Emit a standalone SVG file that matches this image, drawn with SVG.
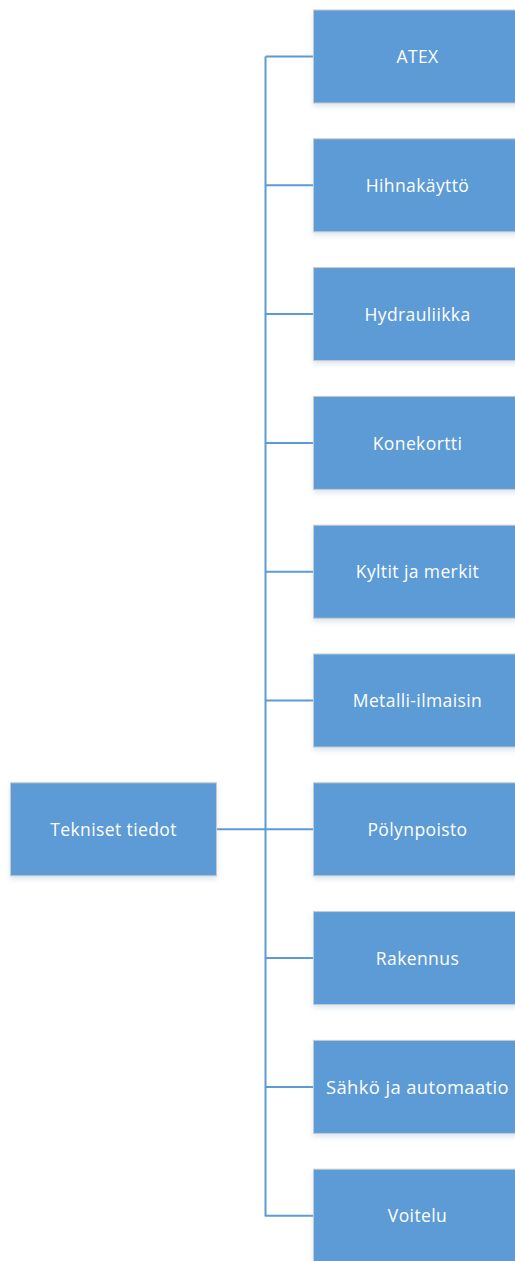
<svg xmlns="http://www.w3.org/2000/svg" width="515" height="1261" viewBox="0 0 515 1261">
  <style>
    .box { fill: #5B9BD5; stroke: #C9C9C9; stroke-width: 1; filter: url(#shadow); }
    .label { fill: #FFFFFF; font-family: "Open Sans", "Noto Sans", sans-serif; font-size: 17.5px; text-anchor: middle; letter-spacing: 0.4px; }
    .wire { fill: none; stroke: #5B9BD5; stroke-width: 2; }
  </style>
  <defs>
    <filter id="shadow" x="-10%" y="-10%" width="120%" height="130%">
      <feDropShadow dx="0" dy="3" stdDeviation="2.5" flood-color="#9DB8D8" flood-opacity="0.35"/>
    </filter>
  </defs>
  <rect width="515" height="1261" fill="#FFFFFF"/>

  <!-- connectors: trunk, root stub and one branch per child -->
  <g id="connectors">
    <path class="wire" d="M265.5 56.5 V1216.5"/>
    <path class="wire" d="M216.5 829.3 H313"/>
    <path class="wire" d="M265.5 56.5 H313"/>
    <path class="wire" d="M265.5 185.3 H313"/>
    <path class="wire" d="M265.5 314.1 H313"/>
    <path class="wire" d="M265.5 442.9 H313"/>
    <path class="wire" d="M265.5 571.7 H313"/>
    <path class="wire" d="M265.5 700.5 H313"/>
    <path class="wire" d="M265.5 958.1 H313"/>
    <path class="wire" d="M265.5 1086.9 H313"/>
    <path class="wire" d="M265.5 1215.7 H313"/>
  </g>

  <g id="root">
    <rect class="box" x="10.5" y="782.8" width="206" height="93"/>
    <text class="label" x="113.5" y="836">Tekniset tiedot</text>
  </g>

  <g id="atex">
    <rect class="box" x="313.5" y="10" width="208" height="93"/>
    <text class="label" x="417.5" y="63.2">ATEX</text>
  </g>
  <g id="hihnakaytto">
    <rect class="box" x="313.5" y="138.8" width="208" height="93"/>
    <text class="label" x="417.5" y="192">Hihnakäyttö</text>
  </g>
  <g id="hydrauliikka">
    <rect class="box" x="313.5" y="267.6" width="208" height="93"/>
    <text class="label" x="417.5" y="320.8">Hydrauliikka</text>
  </g>
  <g id="konekortti">
    <rect class="box" x="313.5" y="396.4" width="208" height="93"/>
    <text class="label" x="417.5" y="449.6">Konekortti</text>
  </g>
  <g id="kyltit">
    <rect class="box" x="313.5" y="525.2" width="208" height="93"/>
    <text class="label" x="417.5" y="578.4">Kyltit ja merkit</text>
  </g>
  <g id="metalli">
    <rect class="box" x="313.5" y="654" width="208" height="93"/>
    <text class="label" x="417.5" y="707.2">Metalli-ilmaisin</text>
  </g>
  <g id="polynpoisto">
    <rect class="box" x="313.5" y="782.8" width="208" height="93"/>
    <text class="label" x="417.5" y="836">Pölynpoisto</text>
  </g>
  <g id="rakennus">
    <rect class="box" x="313.5" y="911.6" width="208" height="93"/>
    <text class="label" x="417.5" y="964.8">Rakennus</text>
  </g>
  <g id="sahko">
    <rect class="box" x="313.5" y="1040.4" width="208" height="93"/>
    <text class="label" x="417.5" y="1093.6" textLength="183" lengthAdjust="spacingAndGlyphs">Sähkö ja automaatio</text>
  </g>
  <g id="voitelu">
    <rect class="box" x="313.5" y="1169.2" width="208" height="93"/>
    <text class="label" x="417.5" y="1222.4">Voitelu</text>
  </g>
</svg>
